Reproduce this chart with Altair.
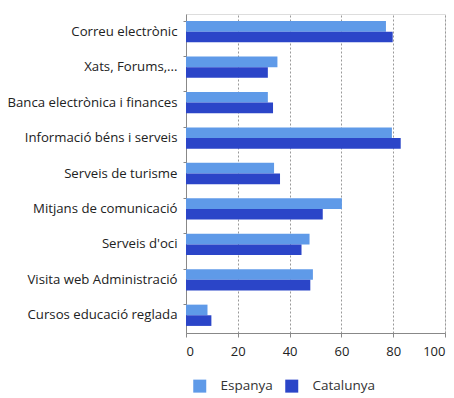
import altair as alt
import pandas as pd

categories = [
    "Correu electrònic",
    "Xats, Forums,...",
    "Banca electrònica i finances",
    "Informació béns i serveis",
    "Serveis de turisme",
    "Mitjans de comunicació",
    "Serveis d'oci",
    "Visita web Administració",
    "Cursos educació reglada",
]
espanya = [77.2, 35.3, 31.6, 79.5, 34.0, 60.2, 47.7, 49.0, 8.3]
catalunya = [79.8, 31.6, 33.6, 82.9, 36.3, 52.8, 44.6, 48.0, 9.8]
series = ["Espanya", "Catalunya"]
colors = ["#5f9ae8", "#2b45c8"]

rows = []
for c, e, k in zip(categories, espanya, catalunya):
    rows.append({"cat": c, "serie": "Espanya", "val": e})
    rows.append({"cat": c, "serie": "Catalunya", "val": k})
df = pd.DataFrame(rows)

FONT = "Open Sans"

chart = alt.Chart(df).mark_bar().encode(
    y=alt.Y("cat:N", sort=categories, title=None,
            scale=alt.Scale(paddingInner=0.4, paddingOuter=0.2),
            axis=alt.Axis(labelFontSize=13.2, labelColor="#222", labelPadding=6,
                          tickSize=3, tickColor="#888", domainColor="#888",
                          bandPosition=0, labelFont=FONT)),
    yOffset=alt.YOffset("serie:N", sort=series),
    x=alt.X("val:Q", title=None,
            scale=alt.Scale(domain=[0, 100]),
            axis=alt.Axis(values=[0, 20, 40, 60, 80, 100], labelFontSize=13,
                          labelColor="#222", labelPadding=8, tickSize=4,
                          tickColor="#888", domainColor="#888",
                          grid=True, gridDash=[2, 2], gridColor="#999",
                          labelFont=FONT)),
    color=alt.Color("serie:N", sort=series,
                    scale=alt.Scale(domain=series, range=colors),
                    legend=alt.Legend(orient="none", legendX=7, legendY=365,
                                      direction="horizontal",
                                      title=None, symbolType="square",
                                      symbolSize=169, symbolStrokeWidth=0,
                                      labelFontSize=13.5, labelColor="#333",
                                      labelFont=FONT, labelOffset=14,
                                      columnPadding=12)),
).properties(
    width=259, height=319,
    autosize=alt.AutoSizeParams(type="none"),
    padding={"left": 178, "top": 6, "right": 1, "bottom": 66},
).configure_view(stroke=None).configure(background="white")

chart.save("out.html", embed_options={"renderer": "svg", "actions": False})
